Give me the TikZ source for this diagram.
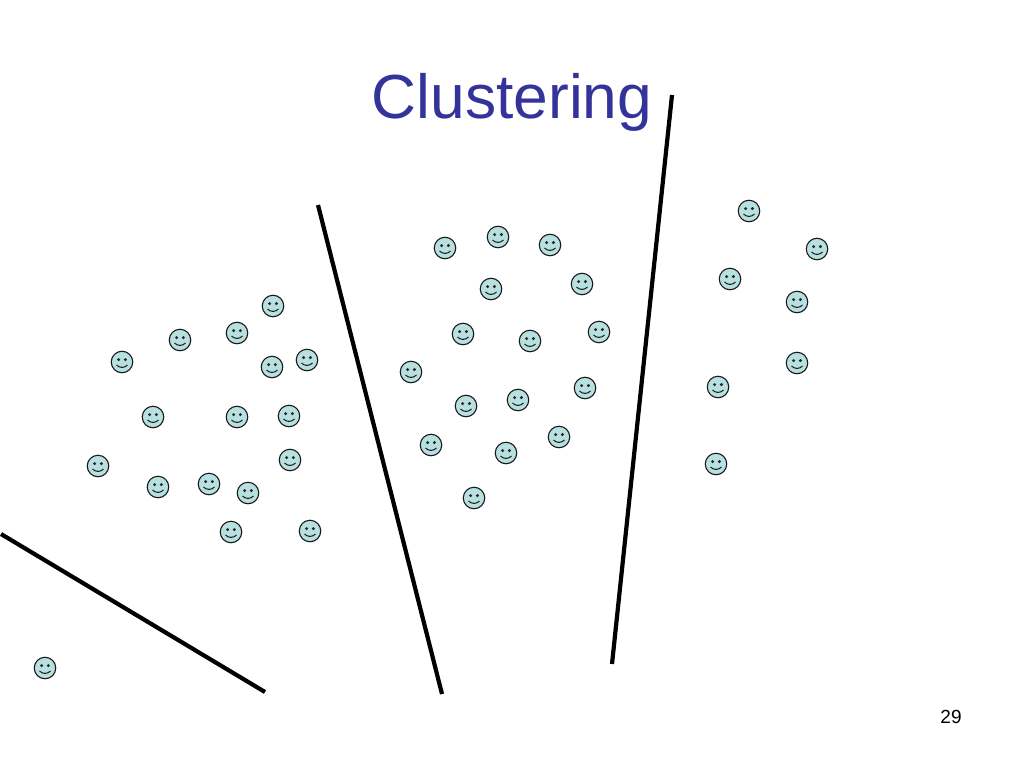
\documentclass[tikz,border=0pt]{standalone}
\usepackage{fontspec}
\setmainfont{Liberation Sans}
\definecolor{titleblue}{HTML}{333399}
\definecolor{faceblue}{HTML}{B8E0E0}
\tikzset{
  x=1pt,y=-1pt,
  facebox/.style={circle,draw=black!90,fill=faceblue,line width=1.1pt,minimum size=21.5pt,inner sep=0pt},
  divider/.style={draw=black,line width=4.2pt},
  smiley/.pic={
    \fill[black!85] (-3.4,-2.4) circle (1.7);
    \fill[black!85] (3.4,-2.4) circle (1.7);
    \draw[black!90,line width=1pt] (-5.5,3.0) .. controls (-2.5,6.2) and (2.5,6.2) .. (5.5,3.0);
  }
}
\begin{document}
\begin{tikzpicture}
\useasboundingbox (0,0) rectangle (1024,768);
\node[text=titleblue,font=\fontsize{62.3}{70}\selectfont,inner sep=0pt,anchor=base] (title) at (512,118) {Clustering};
\node[font=\fontsize{19}{22}\selectfont,inner sep=0pt,anchor=base] (page) at (951,723) {29};
\foreach \i/\x/\y in {
 1/749/211, 2/817/249, 3/730/279, 4/797/302, 5/797/363, 6/718/387, 7/716/464,
 8/445/248, 9/498/237, 10/550/245, 11/491/289, 12/582/284, 13/463/334, 14/530/341, 15/599/332,
 16/411/372, 17/466/406, 18/518/400, 19/585/388, 20/431/445, 21/506/453, 22/559/437, 23/474/498,
 24/273/306, 25/180/340, 26/237/333, 27/122/362, 28/272/367, 29/307/360,
 30/153/417, 31/237/417, 32/289/416, 33/98/466, 34/290/460, 35/158/487, 36/209/484,
 37/248/493, 38/231/532, 39/310/531, 40/45/668}
{
  \node[facebox] (f\i) at (\x,\y) {};
  \pic at (\x,\y) {smiley};
}
\coordinate (a1) at (1,534);
\coordinate (a2) at (265,692);
\coordinate (b1) at (318,205);
\coordinate (b2) at (442,694);
\coordinate (c1) at (672,95);
\coordinate (c2) at (612,664);
\draw[divider] (a1) -- (a2);
\draw[divider] (b1) -- (b2);
\draw[divider] (c1) -- (c2);
\end{tikzpicture}
\end{document}
